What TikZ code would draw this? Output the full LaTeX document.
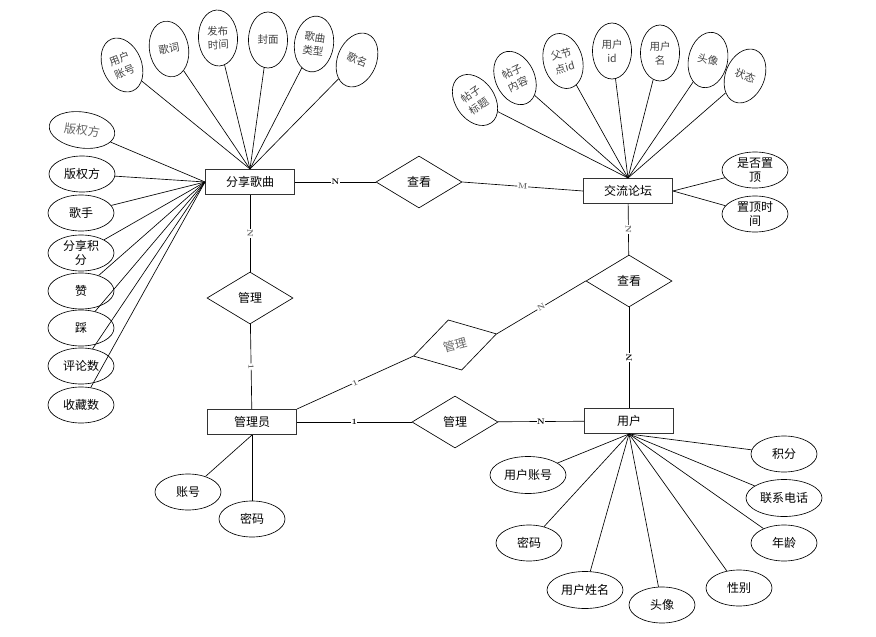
\documentclass[tikz,border=0pt]{standalone}
\usepackage{fontspec}
\newfontfamily\cjk{Noto Sans CJK SC}
\usetikzlibrary{shapes.geometric}

\begin{document}
\begin{tikzpicture}[x=1pt,y=-1pt,line width=0.65pt,
  ent/.style={draw=black!80,line width=1pt,minimum width=89pt,minimum height=25pt,inner sep=1pt,font=\cjk\fontsize{12}{14}\selectfont},
  rel/.style={draw,diamond,minimum width=86pt,minimum height=52pt,inner sep=0pt,font=\cjk\fontsize{12}{14}\selectfont},
  attr/.style={draw,ellipse,minimum width=66pt,minimum height=36pt,inner sep=0pt,align=center,font=\cjk\fontsize{12}{14}\selectfont},
  wide/.style={attr,minimum width=76pt,minimum height=37pt},
  tall/.style={draw,ellipse,minimum width=39pt,minimum height=56pt,inner sep=0pt,align=center,text=black!75,font=\cjk\fontsize{10.5}{14}\selectfont},
  card/.style={font=\footnotesize\bfseries,fill=white,inner sep=0.6pt},
  faint/.style={text=black!60}]
\useasboundingbox (0,0) rectangle (876,637);

% entities
\node[ent] (song) at (250,182) {分享歌曲};
\node[ent] (forum) at (628,191) {交流论坛};
\node[ent] (admin) at (252,422) {管理员};
\node[ent] (user) at (629,421) {用户};

% relations
\node[rel] (r1) at (419,182) {查看};
\node[rel] (r2) at (250,298) {管理};
\node[rel] (r3) at (629,281) {查看};
\node[rel,rotate=15,faint] (r4) at (455,345) {管理};
\node[rel] (r5) at (455,422) {管理};

% song attributes
\node[tall,rotate=22] (sa1) at (122,65) {用户\\账号};
\node[tall,rotate=10] (sa2) at (169,49) {歌词};
\node[tall,rotate=3] (sa3) at (218,38) {发布\\时间};
\node[tall] (sa4) at (268,40) {封面};
\node[tall,rotate=-8] (sa5) at (314,44) {歌曲\\类型};
\node[tall,rotate=-22] (sa6) at (357,60) {歌名};
\node[attr,rotate=-8,faint] (sb1) at (82,130) {版权方};
\node[attr] (sb2) at (82,174) {版权方};
\node[attr] (sb3) at (81,213) {歌手};
\node[attr] (sb4) at (81,253) {分享积\\分};
\node[attr] (sb5) at (81,291) {赞};
\node[attr] (sb6) at (81,328) {踩};
\node[attr] (sb7) at (81,366) {评论数};
\node[attr] (sb8) at (81,405) {收藏数};

% forum attributes
\node[tall,rotate=35] (fa1) at (475,100) {帖子\\标题};
\node[tall,rotate=25] (fa2) at (515,78) {帖子\\内容};
\node[tall,rotate=15] (fa3) at (563,61) {父节\\点id};
\node[tall] (fa4) at (612,51) {用户\\id};
\node[tall] (fa5) at (660,53) {用户\\名};
\node[tall,rotate=-12] (fa6) at (708,60) {头像};
\node[tall,rotate=-22] (fa7) at (745,76) {状态};
\node[attr] (fb1) at (755,170) {是否置\\顶};
\node[attr] (fb2) at (755,214) {置顶时\\间};

% admin attributes
\node[attr] (aa1) at (188,492) {账号};
\node[attr] (aa2) at (252,519) {密码};

% user attributes
\node[attr] (ua1) at (784,454) {积分};
\node[wide] (ua2) at (784,498) {联系电话};
\node[attr] (ua3) at (784,543) {年龄};
\node[attr] (ua4) at (739,588) {性别};
\node[attr] (ua5) at (662,605) {头像};
\node[wide] (ua6) at (585,590) {用户姓名};
\node[attr] (ua7) at (529,543) {密码};
\node[wide] (ua8) at (528,475) {用户账号};

% attribute links
\foreach \i in {1,...,6}
\draw (sa\i) -- (song.north);
\foreach \i in {1,...,8}
\draw (sb\i) -- (song.west);
\foreach \i in {1,...,7}
\draw (fa\i) -- (forum.north);
\foreach \i in {1,2}
\draw (fb\i) -- (forum.east);
\foreach \i in {1,2}
\draw (aa\i) -- (admin.south);
\foreach \i in {1,...,8}
\draw (ua\i) -- (user.south);

% relation links
\draw (song) -- node[card]{N} (r1);
\draw (r1.east) -- node[card,sloped,faint]{M} (forum.west);
\draw (song) -- node[card,sloped,faint]{N} (r2);
\draw (r2) -- node[card,sloped,faint]{1} (admin);
\draw (admin) -- node[card]{1} (r5);
\draw (r5) -- node[card]{N} (user);
\draw (user) -- node[card,sloped]{N} (r3);
\draw (r3) -- node[card,sloped,faint]{N} (forum);
\draw (admin.north east) -- node[card,sloped,faint]{1} (r4.west);
\draw (r4.east) -- node[card,sloped,faint]{N} (r3.west);
\end{tikzpicture}
\end{document}
